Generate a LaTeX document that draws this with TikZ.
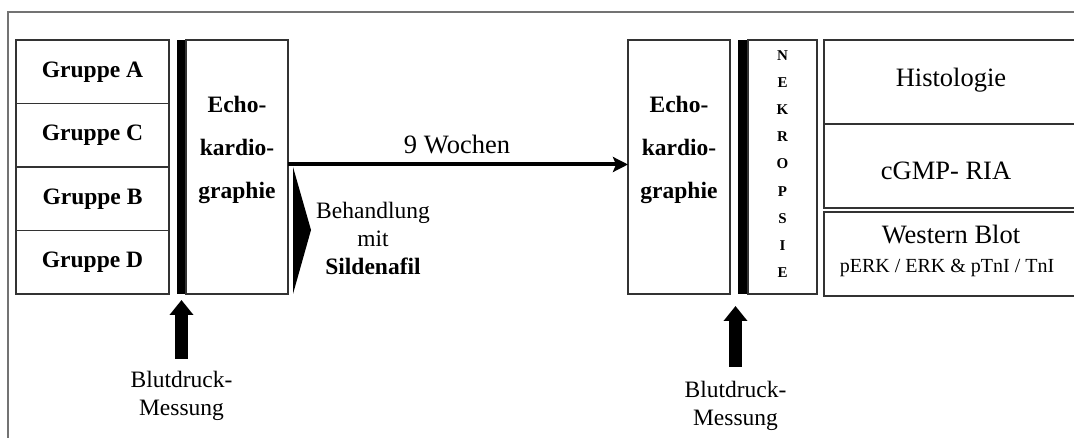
\documentclass[tikz,border=0pt]{standalone}
\usepackage{fontspec}
\setmainfont{Liberation Serif}
\usetikzlibrary{arrows.meta}
\begin{document}
\begin{tikzpicture}[x=1pt,y=-1pt,
  box/.style={draw=black!80,line width=1.1pt,inner sep=0pt,outer sep=0pt,minimum width=#1},
  box/.default=153pt,
  bar/.style={fill=black,inner sep=0pt,outer sep=0pt,minimum height=254pt,minimum width=#1},
  grp/.style={font=\fontsize{23.5}{28}\selectfont\bfseries},
  big/.style={font=\fontsize{26.5}{30}\selectfont},
  mid/.style={font=\fontsize{23.5}{28}\selectfont,align=center},
  uparrow/.style={line width=12.5pt,-{Triangle[length=15pt,width=23pt]}},
]
\useasboundingbox (0,0) rectangle (1074,438);
% frame
\draw[black!55,line width=1.5pt] (8,460) -- (8,12) -- (1090,12);

% groups
\node[box,minimum height=63.5pt,grp] (gA) at (92.5,71.75) {Gruppe A};
\node[box,minimum height=63.5pt,grp] (gC) at (92.5,135.25) {Gruppe C};
\node[box,minimum height=63.5pt,grp] (gB) at (92.5,198.75) {Gruppe B};
\node[box,minimum height=63.5pt,grp] (gD) at (92.5,262.25) {Gruppe D};

% first echocardiography
\node[bar=9pt] (bar1) at (181.5,167) {};
\node[box=102pt,minimum height=254pt] (e1) at (237,167) {};
\node[align=center,font=\fontsize{23.5}{43}\selectfont\bfseries] (e1t) at (237,150) {Echo-\\kardio-\\graphie};

% second echocardiography and necropsy
\node[box=102pt,minimum height=254pt] (e2) at (679,167) {};
\node[align=center,font=\fontsize{23.5}{43}\selectfont\bfseries] (e2t) at (679,150) {Echo-\\kardio-\\graphie};
\node[bar=10pt] (bar2) at (743,167) {};
\node[box=69pt,minimum height=254pt] (nek) at (782.5,167) {};
\node[align=center,font=\fontsize{15}{27.1}\selectfont\bfseries] (nekt) at (782.5,164)
  {N\\E\\K\\R\\O\\P\\S\\I\\E};

% analyses
\node[box=252pt,minimum height=84pt] (hist) at (950,82) {};
\node[box=252pt,minimum height=84pt] (cgmp) at (950,166) {};
\node[box=252pt,minimum height=84pt] (wb) at (950,254) {};
\node[big] (histt) at (951,80) {Histologie};
\node[big] (cgmpt) at (946,171) {cGMP- RIA};
\node[big] (wbt) at (951,235) {Western Blot};
\node[font=\fontsize{20}{24}\selectfont] (wbs) at (947,268) {pERK / ERK \& pTnI / TnI};

% time line
\draw[line width=4pt,-{Stealth[length=15pt,width=15pt,inset=3pt]}]
  ([yshift=2.5pt]e1.east) -- ([yshift=2.5pt]e2.west);
\node[big] (woch) at (457,145) {9 Wochen};

% treatment
\fill (293,167) -- (311,230) -- (293,294) -- cycle;
\node[mid] (beh) at (373,238) {Behandlung\\mit\\\textbf{Sildenafil}};

% blood pressure measurements
\node[mid] (bp1) at (181.5,396) {Blutdruck-\\Messung};
\coordinate (m1) at (181.5,359);
\draw[uparrow,shorten >=6pt] (m1) -- (bar1.south -| m1);
\node[mid] (bp2) at (735.5,406) {Blutdruck-\\Messung};
\coordinate (m2) at (735.5,367);
\draw[uparrow,shorten >=12pt] (m2) -- (bar2.south -| m2);
\end{tikzpicture}
\end{document}
